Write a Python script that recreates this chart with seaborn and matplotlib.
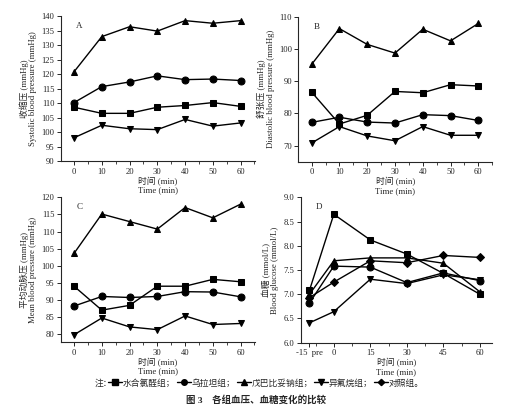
import numpy as np
import pandas as pd
import matplotlib
matplotlib.use("Agg")
import matplotlib.pyplot as plt
from matplotlib.lines import Line2D
from matplotlib.ticker import MultipleLocator
import seaborn as sns

sns.set_style("ticks")
plt.rcParams['font.family'] = ['Liberation Serif', 'Noto Sans CJK SC']
plt.rcParams['axes.unicode_minus'] = False

groups = ["水合氯醛组", "乌拉坦组", "戊巴比妥钠组", "异氟烷组", "对照组"]
t_bp = [0, 10, 20, 30, 40, 50, 60]
t_glu = [-10, 0, 15, 30, 45, 60]
glu_labels = ["-15  pre", "0", "15", "30", "45", "60"]

# Systolic (A)
sbp_chloral = [108.6, 106.5, 106.5, 108.6, 109.2, 110.2, 108.9]
sbp_urethane = [110.2, 115.7, 117.3, 119.4, 118.1, 118.3, 117.8]
sbp_pento = [120.8, 132.9, 136.3, 134.8, 138.4, 137.5, 138.4]
sbp_iso = [98.1, 102.4, 101.2, 100.9, 104.4, 102.1, 103.2]
# Diastolic (B)
dbp_chloral = [86.6, 76.7, 79.4, 86.8, 86.4, 88.9, 88.5]
dbp_urethane = [77.2, 78.8, 77.3, 77.0, 79.6, 79.3, 77.8]
dbp_pento = [95.2, 106.3, 101.4, 98.7, 106.1, 102.5, 107.9]
dbp_iso = [70.8, 75.9, 73.0, 71.5, 75.9, 73.2, 73.2]
# Mean (C)
mbp_chloral = [94.0, 87.0, 88.4, 94.0, 94.0, 96.0, 95.3]
mbp_urethane = [88.2, 91.0, 90.7, 91.0, 92.4, 92.3, 90.9]
mbp_pento = [103.6, 115.1, 112.9, 110.7, 117.0, 114.0, 118.0]
mbp_iso = [79.8, 84.7, 82.1, 81.3, 85.3, 82.8, 83.1]
# Glucose (D)
glu_chloral = [7.08, 8.65, 8.12, 7.83, 7.43, 7.00]
glu_urethane = [6.82, 7.58, 7.56, 7.24, 7.44, 7.28]
glu_pento = [7.00, 7.69, 7.75, 7.75, 7.64, 7.05]
glu_iso = [6.41, 6.64, 7.31, 7.22, 7.40, 7.30]
glu_control = [6.93, 7.25, 7.69, 7.65, 7.80, 7.76]

markers = {"水合氯醛组": "s", "乌拉坦组": "o", "戊巴比妥钠组": "^", "异氟烷组": "v", "对照组": "D"}

def make_df(t, series):
    rows = []
    for g, vals in series:
        for x, v in zip(t, vals):
            rows.append({"time": x, "value": v, "group": g})
    return pd.DataFrame(rows)

fig = plt.figure(figsize=(5.27, 4.12), dpi=100)

panels = [
    dict(pos=[0.1152, 0.6085, 0.3687, 0.3527], t=t_bp,
         series=[(groups[0], sbp_chloral), (groups[1], sbp_urethane), (groups[2], sbp_pento), (groups[3], sbp_iso)],
         ylim=(90, 140), ystep=5, xlim=(-4.8, 65.2), letter="A",
         ylabel="收缩压 (mmHg)\nSystolic blood pressure (mmHg)"),
    dict(pos=[0.566, 0.6075, 0.368, 0.352], t=t_bp,
         series=[(groups[0], dbp_chloral), (groups[1], dbp_urethane), (groups[2], dbp_pento), (groups[3], dbp_iso)],
         ylim=(65, 110), ystep=10, xlim=(-4.8, 65.0), letter="B",
         ylabel="舒张压 (mmHg)\nDiastolic blood pressure (mmHg)"),
    dict(pos=[0.1152, 0.1692, 0.3687, 0.3519], t=t_bp,
         series=[(groups[0], mbp_chloral), (groups[1], mbp_urethane), (groups[2], mbp_pento), (groups[3], mbp_iso)],
         ylim=(77.6, 120), ystep=5, xlim=(-4.8, 65.2), letter="C",
         ylabel="平均动脉压 (mmHg)\nMean blood pressure (mmHg)"),
    dict(pos=[0.5706, 0.1682, 0.363, 0.3529], t=t_glu,
         series=[(groups[0], glu_chloral), (groups[1], glu_urethane), (groups[2], glu_pento), (groups[3], glu_iso), (groups[4], glu_control)],
         ylim=(6.0, 9.0), ystep=0.5, xlim=(-13.6, 65.0), letter="D",
         ylabel="血糖 (mmol/L)\nBlood glucose (mmol/L)"),
]

for p in panels:
    ax = fig.add_axes(p["pos"])
    ax.set_facecolor("none")
    df = make_df(p["t"], p["series"])
    present = [g for g, _ in p["series"]]
    sns.lineplot(data=df, x="time", y="value", style="group", style_order=present,
                 markers={g: markers[g] for g in present}, dashes=False,
                 color="black", ax=ax, legend=False, markersize=5,
                 linewidth=1.0, markeredgecolor="black")
    for ln in ax.lines:
        if ln.get_marker() == "D":
            ln.set_markersize(4)
    ax.set_ylim(*p["ylim"])
    ax.set_xlim(*p["xlim"])
    ax.yaxis.set_major_locator(MultipleLocator(p["ystep"]))
    if p["letter"] == "D":
        ax.set_xticks(t_glu)
        ax.set_xticklabels(glu_labels)
        ax.xaxis.set_minor_locator(MultipleLocator(7.5))
        ax.yaxis.set_major_formatter(matplotlib.ticker.FormatStrFormatter("%.1f"))
    else:
        ax.set_xticks(t_bp)
        ax.xaxis.set_minor_locator(MultipleLocator(5))
    ax.tick_params(axis="both", which="major", direction="out", length=3, width=0.7, labelsize=6.2, pad=1.5)
    ax.tick_params(axis="x", which="minor", direction="out", length=2, width=0.6)
    for s in ["top", "right"]:
        ax.spines[s].set_visible(False)
    for s in ["left", "bottom"]:
        ax.spines[s].set_linewidth(0.8)
    ax.set_xlabel("时间 (min)\nTime (min)", fontsize=6.3, labelpad=1, linespacing=1.05)
    ax.set_ylabel(p["ylabel"], fontsize=6.3, labelpad=3, linespacing=1.1)
    ax.text(0.08, 0.93, p["letter"], transform=ax.transAxes, fontsize=6.5, va="center", ha="left")

handles = [Line2D([0], [0], color="black", lw=1.0, marker=markers[g],
                  markersize=4 if markers[g] != "D" else 3.2, markeredgecolor="black") for g in groups]
labels = [g + "；" for g in groups[:-1]] + [groups[-1] + "。"]
fig.text(0.18, 0.070, "注：", fontsize=6.3, va="center", ha="left")
fig.legend(handles, labels, loc="center left", bbox_to_anchor=(0.205, 0.070), ncol=5,
           frameon=False, fontsize=6.3, handlelength=1.6, handletextpad=0.1,
           columnspacing=0.15, borderpad=0, borderaxespad=0)
fig.text(0.486, 0.030, "图 3    各组血压、血糖变化的比较", fontsize=6.8, fontweight="bold",
         va="center", ha="center")

fig.savefig("out.png", dpi=100)
